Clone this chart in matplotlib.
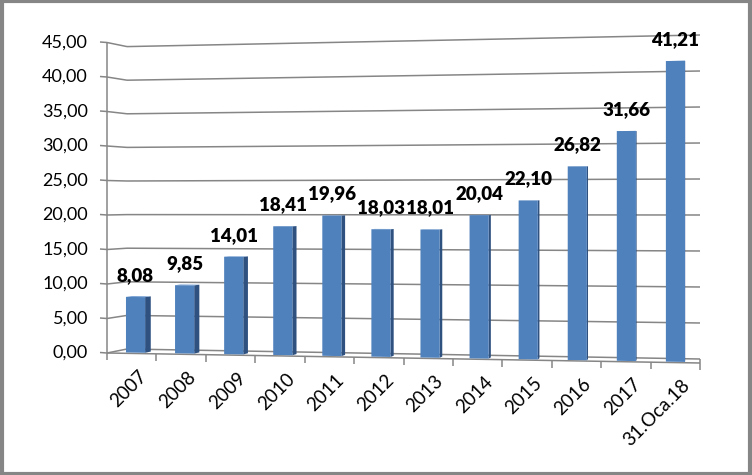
import matplotlib
matplotlib.use('Agg')
import matplotlib.pyplot as plt
from matplotlib.patches import Polygon, Rectangle

plt.rcParams['font.family'] = ['Lato', 'DejaVu Sans']

categories = ['2007', '2008', '2009', '2010', '2011', '2012', '2013',
              '2014', '2015', '2016', '2017', '31.Oca.18']
values = [8.08, 9.85, 14.01, 18.41, 19.96, 18.03, 18.01,
          20.04, 22.10, 26.82, 31.66, 41.21]
yticks = [0, 5, 10, 15, 20, 25, 30, 35, 40, 45]

W, H = 752, 475
fig = plt.figure(figsize=(W / 100, H / 100), dpi=100)
ax = fig.add_axes([0, 0, 1, 1])
ax.set_xlim(0, W)
ax.set_ylim(H, 0)
ax.axis('off')


def proj(f, v, d):
    # f: position along category axis (0..1), v: value, d: depth (0 front, 1 back)
    x = (107 + 593 * f) * (1 - d) + (127 + 573 * f) * d
    y0 = (353 + 10 * f) * (1 - d) + (349 + 10 * f) * d
    k = (6.9 + 0.45 * f) * (1 - d) + (6.72 + 0.48 * f) * d
    return x, y0 - v * k


def seg(p, q, **kw):
    ax.plot([p[0], q[0]], [p[1], q[1]], color='#868686', lw=1.1,
            solid_capstyle='butt', **kw)


# walls and gridlines
for v in yticks:
    seg(proj(0, v, 0), proj(0, v, 1))
    seg(proj(0, v, 1), proj(1, v, 1))
    x0, y0 = proj(0, v, 0)
    seg((x0 - 7, y0 - 0.5), (x0, y0))
    ax.text(x0 - 19, y0, f'{v:.2f}'.replace('.', ','), ha='right', va='center',
            fontsize=13, color='black')

seg(proj(0, 0, 0), proj(0, max(yticks), 0))
seg(proj(0, 0, 0), proj(1, 0, 0))
seg(proj(1, 0, 0), proj(1, 0, 1))

n = len(categories)
for i in range(n + 1):
    x, y = proj(i / n, 0, 0)
    seg((x, y), (x, y + 7))

# bars
hw = 0.195 / n
d1, d2 = 0.2, 0.5
for i, (cat, val) in enumerate(zip(categories, values)):
    fc = (i + 0.5) / n
    fl, fr = fc - hw, fc + hw
    front = [proj(fl, 0, d1), proj(fr, 0, d1), proj(fr, val, d1), proj(fl, val, d1)]
    side = [proj(fr, 0, d1), proj(fr, 0, d2), proj(fr, val, d2), proj(fr, val, d1)]
    top = [proj(fl, val, d1), proj(fr, val, d1), proj(fr, val, d2), proj(fl, val, d2)]
    ax.add_patch(Polygon(side, closed=True, fc='#2e5180', ec='none', zorder=3))
    ax.add_patch(Polygon(top, closed=True, fc='#6a97cf', ec='none', zorder=3))
    ax.add_patch(Polygon(front, closed=True, fc='#4f81bd', ec='none', zorder=4))

    tx, ty = proj(fc, val, d1)
    ax.text(tx, ty - 16, f'{val:.2f}'.replace('.', ','), ha='center', va='baseline',
            fontsize=13.5, fontweight='heavy', color='black', zorder=5)

    bx, by = proj(fc, 0, 0)
    ax.text(bx + 6, by + 14, cat, ha='right', va='top', rotation=45,
            rotation_mode='anchor', fontsize=13.5, color='black')

fig.patches.append(Rectangle((0.002, 0.003), 0.996, 0.994, transform=fig.transFigure,
                             fill=False, ec='#868686', lw=3))

fig.savefig('out.png', dpi=100)
